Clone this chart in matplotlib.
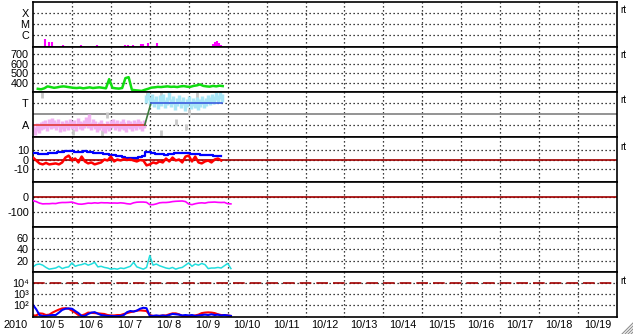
import matplotlib
matplotlib.use("Agg")
import matplotlib.pyplot as plt
import numpy as np
from matplotlib.lines import Line2D

plt.rcParams["font.family"] = ["Liberation Sans", "DejaVu Sans"]
plt.rcParams["axes.unicode_minus"] = False

# ── Data (time in days since 10/5 00:00) ─────────────────────────────────────
day_labels = ["10/ 5", "10/ 6", "10/ 7", "10/ 8", "10/ 9", "10/10", "10/11", "10/12",
              "10/13", "10/14", "10/15", "10/16", "10/17", "10/18", "10/19"]

flare_t = [0.32, 0.42, 0.49, 0.77, 1.23, 1.64, 2.36, 2.44, 2.56, 2.77, 2.82,
           2.95, 3.18, 4.62, 4.67, 4.72, 4.77, 4.82]
flare_flux = [4.4e-7, 2.3e-7, 2.3e-7, 1.2e-7, 1.2e-7, 1.2e-7, 1.2e-7, 1.2e-7, 1.2e-7,
              1.5e-7, 1.5e-7, 1.9e-7, 1.9e-7, 1.5e-7, 2.3e-7, 2.8e-7, 1.9e-7, 1.2e-7]

# solar wind speed, 2-hourly
speed = [np.nan, 340, 335, 345, 365, 358, 350, 355, 362, 365, 360, 355, 350, 348, 352,
         345, 350, 355, 348, 352, 355, 350, 345, 440, 350, 345, 342, 348, 450, 460,
         330, 325, 322, 318, 330, 340, 352, 355, 360, 358, 362, 365, 360, 362, 358,
         365, 368, 362, 360, 370, 375, 385, 370, 365, 362, 370, 365, 372, 368]

# IMF sector (A = -1, T = +1)
sector_t = [0.0, 2.87, 3.03, 4.86]
sector_v = [-1, -1, 1, 1]
pink_t0, pink_dt = 0.0, 0.05
pink_v = [-1.3, -1.5, -1.2, -1.4, -1.1, -1.0, -0.9, -1.2, -0.8, -1.0, -0.7, -0.9, -1.1,
          -0.8, -1.3, -1.0, -1.2, -0.9, -1.1, -0.8, -1.0, -0.9, -1.2, -0.7, -1.0, -1.1,
          -0.9, -0.6, -0.9, -0.4, -1.1, -0.8, -1.0, -1.3, -1.1, -0.9, -1.2, -1.4, -1.0,
          -1.2, -0.9, -0.8, -1.1, -0.9, -1.2, -1.0, -0.8, -1.1, -1.3, -0.9, -1.0, -1.2,
          -0.9, -1.1, -0.8, -1.0, -1.2, -0.9]
cyan_t0, cyan_dt = 2.9, 0.05
cyan_v = [1.4, 1.6, 1.2, 1.5, 1.0, 1.3, 0.8, 1.4, 1.1, 1.5, 0.9, 1.2, 1.6, 1.0, 1.3, 0.7,
          1.1, 1.4, 0.9, 1.2, 0.6, 1.0, 1.3, 0.8, 1.1, 0.9, 1.2, 0.7, 1.0, 1.3, 0.9, 1.1,
          1.4, 1.2, 1.5, 1.3, 1.6, 1.4, 1.7, 1.5]
gray_t = [0.22, 1.03, 1.76, 1.89, 2.92, 3.28, 3.28, 3.68, 3.94, 4.2, 3.8, 4.0]
gray_v = [1.7, -1.6, -1.7, -0.1, 1.7, 1.8, -1.7, -0.7, -1.2, 1.7, 0.9, 0.2]

# IMF Bt (blue) and Bz (red), 2-hourly
bt = [7, 6.5, 6, 5.5, 5.5, 6.5, 7, 7, 7.5, 7.5, 9, 9, 8.5, 8, 8, 8, 8.5, 8, 7.5, 7,
      7, 6.5, 6, 5.5, 5, 5, 4, 3.5, 3, 2, 1.5, 2, 2, 2.5, 4, 7.5, 7.5, 6.5, 6, 5.5,
      5.5, 5, 5.5, 6, 6.5, 6.5, 7, 6.5, 6.5, 6, 6, 5.5, 5, 5, 5, 4.5, 4, 3.5, 3.5]
bz = [2, -1, -4, -5, -3.5, -5, -4.5, -4, -5, -3, 2, 4, -1, 1, -3, 3, -2, -4, -3, -5,
      -4, -3, 0, -1, 3, -2, 0, -1, 0.5, -0.5, 0, -1, -2, -0.5, -1, -6, -5, -3, -4, -2,
      -3, 1, -2, 2, -1, 0, -3, 3, 4, -2, 3, -3, -4, -2, -1, -3, 0, 1, -1]

# Dst index, 2-hourly
dst = [-24, -30, -40, -45, -44, -44, -42, -43, -38, -36, -36, -35, -33, -40, -46, -47,
       -44, -40, -41, -38, -40, -37, -38, -38, -40, -39, -40, -38, -40, -44, -46, -38,
       -34, -33, -33, -35, -50, -50, -45, -38, -36, -36, -34, -30, -28, -27, -26, -30,
       -46, -50, -44, -40, -38, -40, -35, -34, -33, -35, -36, -35, -44, -45]

# solar wind density, 2-hourly
density = [9, 13, 14, 12, 8, 5, 6, 7, 10, 6, 8, 9, 16, 10, 12, 13, 15, 12, 14, 17, 9, 10,
           8, 7, 5, 6, 5, 7, 6, 8, 10, 17, 9, 7, 5, 8, 29, 12, 14, 11, 9, 7, 6, 8, 5, 7,
           8, 12, 16, 10, 14, 12, 15, 13, 6, 7, 7, 8, 7, 11, 15, 6]

# proton flux, 2-hourly
proton_red = [11, 11, 17, 16, 12, 13, 20, 28, 38, 48, 50, 45, 30, 20, 12, 11, 14, 20, 19,
              18, 17, 16, 15, 12, 11, 11, 12, 12, 15, 18, 22, 25, 30, 32, 30, 28, 12, 10,
              10, 10, 11, 11, 14, 17, 17, 14, 10, 10, 10, 10, 11, 13, 18, 20, 21, 20, 18,
              14, 12, 12, 11, 10]
proton_blue = [100, 40, 12, 10, 10, 11, 12, 12, 20, 35, 45, 48, 45, 28, 18, 10, 10, 15,
               20, 22, 16, 12, 11, 10, 10, 9.5, 9.5, 10, 12, 22, 28, 25, 30, 45, 55, 50,
               10, 10, 11, 10, 11, 10, 12, 15, 14, 13, 11, 12, 11, 12, 10, 11, 12, 13,
               12, 14, 12, 13, 11, 12, 11, 10]


def hours(series):
    return np.arange(len(series)) / 12.0


FS = 7.8
DOT = (0, (1, 2.2))
fig, axes = plt.subplots(7, 1, figsize=(6.33, 3.34), dpi=100, sharex=True)
fig.subplots_adjust(left=33 / 633, right=617 / 633, top=1 - 2 / 334,
                    bottom=1 - 317 / 334, hspace=0)

for ax in axes:
    ax.set_xlim(0, 15)
    for sp in ax.spines.values():
        sp.set_linewidth(1.2)
    for d in range(1, 15):
        ax.axvline(d, color="black", ls=DOT, lw=0.9, zorder=1)
    ax.tick_params(length=0, labelsize=FS, pad=3)
    ax.set_xticks([])

# ── Panel 1: X-ray flares ───────────────────────────────────────────────────
ax = axes[0]
ax.set_yscale("log")
ax.set_ylim(10 ** -7.09, 1e-3)
ax.vlines(flare_t, 10 ** -7.09, flare_flux, color="#ff00ff", lw=1.5)
ax.set_yticks([1e-4, 1e-5, 1e-6])
ax.set_yticklabels(["X", "M", "C"])
ax.yaxis.set_minor_locator(matplotlib.ticker.NullLocator())

# ── Panel 2: speed ──────────────────────────────────────────────────────────
ax = axes[1]
ax.plot(hours(speed) + 0.04, speed, color="#11dd11", lw=1.8)
ax.set_ylim(307, 771)
ax.set_yticks([700, 600, 500, 400])

# ── Panel 3: sector ─────────────────────────────────────────────────────────
ax = axes[2]
ax.axhline(0, color="#808080", lw=1.2)
ax.plot(gray_t, gray_v, ls="none", marker="|", ms=4, mew=2, color="#c8c8c8")
ax.plot(pink_t0 + pink_dt * np.arange(len(pink_v)), pink_v, ls="none", marker="|",
        ms=6, mew=2.5, color="#f2b2f2")
ax.plot(cyan_t0 + cyan_dt * np.arange(len(cyan_v)), cyan_v, ls="none", marker="|",
        ms=6, mew=2.5, color="#a8e6f6")
ax.plot(sector_t[:2], sector_v[:2], color="#e03838", lw=1.2)
ax.plot(sector_t[1:3], sector_v[1:3], color="#3c7a3c", lw=1.2)
ax.plot(sector_t[2:], sector_v[2:], color="#3c5ee0", lw=1.2)
ax.set_ylim(-2.09, 2.0)
ax.set_yticks([1, -1])
ax.set_yticklabels(["T", "A"])

# ── Panel 4: IMF ────────────────────────────────────────────────────────────
ax = axes[3]
ax.axhline(0, color="#a00000", lw=1.2, zorder=2)
ax.plot(hours(bt), bt, color="#0000ff", lw=1.6, drawstyle="steps-mid", zorder=3)
ax.plot(hours(bz), bz, color="#ff0000", lw=1.8, zorder=4)
ax.set_ylim(-23, 23)
ax.set_yticks([10, 0, -10])

# ── Panel 5: Dst ────────────────────────────────────────────────────────────
ax = axes[4]
ax.axhline(0, color="#a00000", lw=1.2, zorder=2)
ax.plot(hours(dst), dst, color="#ff00ff", lw=1.2, zorder=3)
ax.set_ylim(-196, 98)
ax.set_yticks([0, -100])

# ── Panel 6: density ────────────────────────────────────────────────────────
ax = axes[5]
ax.plot(hours(density), density, color="#22dede", lw=1.1)
ax.set_ylim(0, 79)
ax.set_yticks([60, 40, 20])

# ── Panel 7: protons ────────────────────────────────────────────────────────
ax = axes[6]
ax.set_yscale("log")
ax.set_ylim(10 ** 0.9, 1e5)
ax.axhline(1e4, color="#a00000", lw=1.2, ls=(0, (7, 3)), zorder=2)
ax.plot(hours(proton_red), proton_red, color="#ff0000", lw=1.5)
ax.plot(hours(proton_blue), proton_blue, color="#0000ff", lw=1.5)
ax.set_yticks([1e4, 1e3, 1e2])
ax.set_yticklabels(["10\u2074", "10\u00b3", "10\u00b2"])
ax.yaxis.set_minor_locator(matplotlib.ticker.NullLocator())
ax.set_xticks(np.arange(15) + 0.5)
ax.set_xticklabels(day_labels)
ax.tick_params(axis="x", pad=2)

for ax in axes:
    ax.yaxis.grid(True, color="black", ls=DOT, lw=0.9)
    ax.set_axisbelow(True)

fig.text(16 / 633, 1 - 325 / 334, "2010", ha="center", va="center", fontsize=FS)
for ypix in [10, 55, 100, 147, 281]:
    fig.text(620 / 633, 1 - ypix / 334, "rt", ha="left", va="center", fontsize=7)

# resize grip in the corner
for k in range(4):
    off = 3 * k
    fig.add_artist(Line2D([(622 + off) / 633, 633 / 633],
                          [0, (11 - off) / 334],
                          transform=fig.transFigure, color="#909090", lw=0.8))

fig.savefig("out.png", dpi=100)
